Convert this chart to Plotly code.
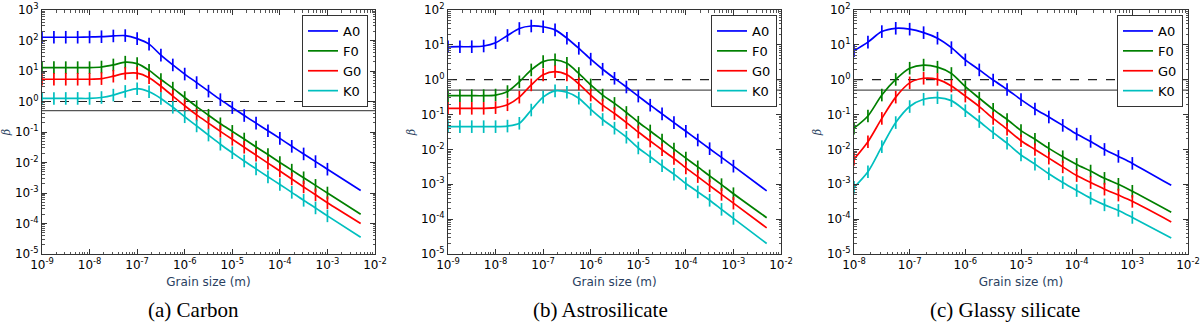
"""Radiation pressure beta against grain size for three grain materials."""

import plotly.graph_objects as go

# grain size (m): four samples per decade, plus the last computed size
GRAIN_SIZE = [
    1e-9, 1.78e-9, 3.16e-9, 5.62e-9,
    1e-8, 1.78e-8, 3.16e-8, 5.62e-8,
    1e-7, 1.78e-7, 3.16e-7, 5.62e-7,
    1e-6, 1.78e-6, 3.16e-6, 5.62e-6,
    1e-5, 1.78e-5, 3.16e-5, 5.62e-5,
    1e-4, 1.78e-4, 3.16e-4, 5.62e-4,
    1e-3, 5e-3,
]
GRAIN_SIZE_GLASSY = GRAIN_SIZE[4:]

STARS = ["A0", "F0", "G0", "K0"]
STAR_COLORS = ["#0000ff", "#008000", "#ff0000", "#00bfbf"]

# beta = 1 (blow-out) and beta = 0.5 (unbound when released from a circular orbit)
BETA_BLOWOUT = 1.0
BETA_UNBOUND = 0.5

CARBON_A0 = [128, 128, 128, 128, 130, 133, 141, 145, 115, 75.9, 33.1, 15.8, 7.94,
             4.17, 2.19, 1.15, 0.631, 0.347, 0.195, 0.110, 0.0617, 0.0339,
             0.0191, 0.0107, 0.00603, 0.00120]
CARBON_F0 = [12.9, 12.9, 12.9, 12.9, 12.9, 13.5, 15.8, 19.5, 17.4, 10.5, 5.25, 2.75,
             1.35, 0.676, 0.355, 0.186, 0.105, 0.0589, 0.0324, 0.0182, 0.0100,
             0.00562, 0.00316, 0.00178, 0.00100, 0.000200]
CARBON_G0 = [5.37, 5.37, 5.37, 5.37, 5.37, 5.62, 6.76, 8.32, 8.51, 6.03, 3.16, 1.51,
             0.724, 0.363, 0.195, 0.105, 0.0575, 0.0316, 0.0174, 0.00955, 0.00525,
             0.00288, 0.00158, 0.000871, 0.000479, 0.000100]
CARBON_K0 = [1.26, 1.26, 1.26, 1.26, 1.26, 1.35, 1.62, 2.14, 2.63, 2.09, 1.26, 0.646,
             0.316, 0.158, 0.0794, 0.0398, 0.0209, 0.0112, 0.00617, 0.00339,
             0.00191, 0.00105, 0.000575, 0.000324, 0.000178, 0.0000355]

ASTRO_A0 = [8.81, 8.85, 8.85, 9.27, 11.5, 18.6, 29.5, 34.7, 33.1, 26.9, 15.5, 7.94,
            3.89, 2.00, 1.10, 0.617, 0.339, 0.186, 0.105, 0.0589, 0.0331, 0.0186,
            0.0105, 0.00589, 0.00331, 0.000646]
ASTRO_F0 = [0.348, 0.348, 0.348, 0.348, 0.363, 0.457, 0.871, 1.91, 3.31, 3.72, 2.95,
            1.51, 0.708, 0.363, 0.209, 0.115, 0.0603, 0.0339, 0.0186, 0.0102,
            0.00562, 0.00316, 0.00174, 0.000977, 0.000537, 0.000110]
ASTRO_G0 = [0.151, 0.151, 0.151, 0.151, 0.158, 0.191, 0.316, 0.708, 1.38, 1.70, 1.38,
            0.759, 0.363, 0.186, 0.107, 0.0589, 0.0316, 0.0174, 0.00977, 0.00550,
            0.00295, 0.00166, 0.000912, 0.000513, 0.000288, 0.0000562]
ASTRO_K0 = [0.045, 0.045, 0.045, 0.045, 0.045, 0.0468, 0.0562, 0.135, 0.316, 0.479,
            0.437, 0.295, 0.141, 0.0724, 0.0407, 0.0224, 0.0110, 0.00617, 0.00339,
            0.00195, 0.00105, 0.000603, 0.000347, 0.000191, 0.000105, 0.0000200]

GLASSY_A0 = [6.76, 12.0, 24.0, 29.9, 28.2, 22.4, 15.5, 8.32, 3.72, 1.91, 0.977,
             0.525, 0.269, 0.145, 0.0851, 0.0490, 0.0275, 0.0170, 0.0100, 0.00631,
             0.00398, 0.000933]
GLASSY_F0 = [0.0407, 0.0912, 0.363, 1.02, 2.14, 2.63, 2.29, 1.51, 0.631, 0.295,
             0.141, 0.0724, 0.0347, 0.0195, 0.0107, 0.00617, 0.00372, 0.00240,
             0.00148, 0.00100, 0.000631, 0.000158]
GLASSY_G0 = [0.00525, 0.0166, 0.0776, 0.316, 0.813, 1.10, 1.02, 0.661, 0.339, 0.170,
             0.0776, 0.0380, 0.0178, 0.0100, 0.00562, 0.00316, 0.00178, 0.00112,
             0.000724, 0.000490, 0.000324, 0.0000832]
GLASSY_K0 = [0.000813, 0.00229, 0.0120, 0.0589, 0.170, 0.275, 0.305, 0.251, 0.129,
             0.0631, 0.0302, 0.0151, 0.00692, 0.00380, 0.00200, 0.00112, 0.000661,
             0.000398, 0.000257, 0.000178, 0.000112, 0.0000288]

PANELS = [
    {
        "caption": "(a) Carbon",
        "sizes": GRAIN_SIZE,
        "series": [CARBON_A0, CARBON_F0, CARBON_G0, CARBON_K0],
        "x_decades": (-9, -2),
        "y_decades": (-5, 3),
        "x_px": (42, 375),
        "caption_x": 193,
        "legend_right": 368,
    },
    {
        "caption": "(b) Astrosilicate",
        "sizes": GRAIN_SIZE,
        "series": [ASTRO_A0, ASTRO_F0, ASTRO_G0, ASTRO_K0],
        "x_decades": (-9, -2),
        "y_decades": (-5, 2),
        "x_px": (448, 781),
        "caption_x": 600,
        "legend_right": 777,
    },
    {
        "caption": "(c) Glassy silicate",
        "sizes": GRAIN_SIZE_GLASSY,
        "series": [GLASSY_A0, GLASSY_F0, GLASSY_G0, GLASSY_K0],
        "x_decades": (-8, -2),
        "y_decades": (-5, 2),
        "x_px": (854, 1188),
        "caption_x": 1005,
        "legend_right": 1183,
    },
]

WIDTH, HEIGHT = 1200, 324
PLOT_TOP, PLOT_BOTTOM = 10, 254
TICK_FONT = dict(family="DejaVu Sans", size=12, color="black")


def _power_labels(lo: int, hi: int) -> tuple[list[float], list[str]]:
    vals = [10.0 ** k for k in range(lo, hi + 1)]
    text = [f"10<sup>{k}</sup>" for k in range(lo, hi + 1)]
    return vals, text


def _axis_style() -> dict:
    return dict(
        type="log",
        automargin=False,
        showgrid=False,
        zeroline=False,
        showline=True,
        linecolor="#333333",
        linewidth=1,
        mirror="allticks",
        ticks="inside",
        ticklen=5,
        tickcolor="#333333",
        tickfont=TICK_FONT,
        minor=dict(ticks="inside", ticklen=2.5, tickcolor="#555555", dtick="D1"),
    )


fig = go.Figure()

for idx, panel in enumerate(PANELS, start=1):
    suffix = "" if idx == 1 else str(idx)
    legend_name = "legend" if idx == 1 else f"legend{idx}"
    x_lo, x_hi = panel["x_decades"]
    axes = dict(xaxis=f"x{suffix}", yaxis=f"y{suffix}")

    # reference levels beta = 1 (dashed) and beta = 0.5 (solid) across the panel
    for beta_level, dash, color in [
        (BETA_BLOWOUT, "dash", "#222222"),
        (BETA_UNBOUND, "solid", "#555555"),
    ]:
        fig.add_trace(
            go.Scatter(
                x=[10.0 ** x_lo, 10.0 ** x_hi],
                y=[beta_level, beta_level],
                mode="lines",
                line=dict(color=color, width=1.2, dash=dash),
                showlegend=False,
                hoverinfo="skip",
                **axes,
            )
        )

    for star, color, beta in zip(STARS, STAR_COLORS, panel["series"]):
        fig.add_trace(
            go.Scatter(
                x=panel["sizes"],
                y=beta,
                name=star,
                mode="lines",
                line=dict(color=color, width=1.7, shape="spline", smoothing=0.8),
                legend=legend_name,
                **axes,
            )
        )
        # sample markers on every computed size except the final one
        fig.add_trace(
            go.Scatter(
                x=panel["sizes"][:-1],
                y=beta[:-1],
                mode="markers",
                marker=dict(
                    symbol="line-ns",
                    size=9,
                    color=color,
                    line=dict(color=color, width=1.7),
                ),
                showlegend=False,
                hoverinfo="skip",
                **axes,
            )
        )

    xvals, xtext = _power_labels(x_lo, x_hi)
    yvals, ytext = _power_labels(*panel["y_decades"])
    left_px, right_px = panel["x_px"]
    xaxis = _axis_style()
    xaxis.update(
        domain=[left_px / WIDTH, right_px / WIDTH],
        range=[x_lo, x_hi],
        tickvals=xvals,
        ticktext=xtext,
        anchor=f"y{suffix}",
        title=dict(text="Grain size (m)", font=dict(family="DejaVu Sans", size=12),
                   standoff=6),
    )
    yaxis = _axis_style()
    yaxis.update(
        domain=[1 - PLOT_BOTTOM / HEIGHT, 1 - PLOT_TOP / HEIGHT],
        range=list(panel["y_decades"]),
        tickvals=yvals,
        ticktext=ytext,
        anchor=f"x{suffix}",
        title=dict(text="<i>β</i>", font=dict(family="DejaVu Serif", size=11),
                   standoff=3),
    )
    fig.update_layout({f"xaxis{suffix}": xaxis, f"yaxis{suffix}": yaxis})

    fig.update_layout(
        {
            legend_name: dict(
                x=panel["legend_right"] / WIDTH,
                y=1 - 15 / HEIGHT,
                xanchor="right",
                yanchor="top",
                bgcolor="white",
                bordercolor="#333333",
                borderwidth=1,
                font=dict(family="DejaVu Sans", size=13, color="black"),
                itemwidth=30,
                tracegroupgap=0,
            )
        }
    )

    fig.add_annotation(
        text=panel["caption"],
        xref="paper",
        yref="paper",
        x=panel["caption_x"] / WIDTH,
        y=1 - 310 / HEIGHT,
        xanchor="center",
        yanchor="middle",
        showarrow=False,
        font=dict(family="Liberation Serif", size=21, color="black"),
    )

fig.update_layout(
    width=WIDTH,
    height=HEIGHT,
    margin=dict(l=0, r=0, t=0, b=0, autoexpand=False),
    paper_bgcolor="white",
    plot_bgcolor="white",
    showlegend=True,
)

# drop the browser's default page margin so the figure sits at the window origin
fig.write_html(
    "out.html",
    config={"displayModeBar": False},
    post_script="document.body.style.margin = '0';",
)
